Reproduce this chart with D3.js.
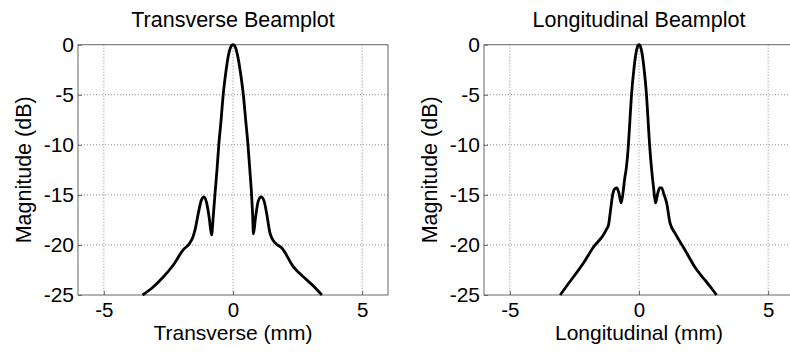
<!DOCTYPE html>
<html>
<head>
<meta charset="utf-8">
<script src="https://cdn.jsdelivr.net/npm/d3@7"></script>
<style>
  body { margin: 0; background: #fff; }
  text { font-family: "Liberation Sans", Arial, sans-serif; fill: #000; }
</style>
</head>
<body>
<div id="canvas"></div>
<script>
// tick values shared by both panels
const xTicks = [-5, 0, 5];
const yTicks = [0, -5, -10, -15, -20, -25];

// Transverse beamplot (mm, dB)
const transverseX = [-3.50, -3.09, -2.70, -2.31, -1.93, -1.67, -1.55, -1.47, -1.34, -1.22, -1.12, -1.02, -0.92, -0.83,
  -0.76, -0.70, -0.62, -0.55, -0.46, -0.38, -0.28, -0.18, -0.10, -0.04, 0, 0.04, 0.10, 0.18, 0.29, 0.40, 0.49, 0.58,
  0.66, 0.72, 0.76, 0.79, 0.87, 0.98, 1.09, 1.20, 1.30, 1.43, 1.52, 1.63, 1.89, 2.34, 2.86, 3.15, 3.44];
const transverseDb = [-25, -24.2, -23.2, -22.0, -20.5, -19.8, -19.2, -18.5, -16.8, -15.5, -15.2, -15.8, -17.3, -19.0,
  -17.0, -15.0, -12.5, -10.0, -7.5, -5.0, -2.8, -1.1, -0.3, -0.04, 0, -0.04, -0.3, -1.1, -2.8, -5.0, -7.5, -10.0,
  -12.8, -15.0, -17.0, -18.9, -17.3, -15.6, -15.2, -15.6, -16.8, -18.8, -19.4, -19.8, -20.3, -22.2, -23.5, -24.2, -25];

// Longitudinal beamplot (mm, dB)
const longitudinalX = [-3.05, -2.80, -2.54, -2.15, -1.76, -1.38, -1.25, -1.18, -1.10, -1.02, -0.94, -0.86, -0.78, -0.69,
  -0.62, -0.55, -0.50, -0.41, -0.35, -0.29, -0.20, -0.12, -0.06, -0.03, 0, 0.03, 0.06, 0.12, 0.20, 0.29, 0.35, 0.41,
  0.49, 0.56, 0.64, 0.72, 0.80, 0.88, 0.96, 1.07, 1.20, 1.39, 1.78, 2.16, 2.55, 2.80, 3.00];
const longitudinalDb = [-25, -24.1, -23.2, -21.8, -20.2, -19.0, -18.4, -18.0, -16.5, -15.0, -14.4, -14.3, -14.8, -15.8,
  -14.8, -13.3, -12.5, -10.0, -7.5, -5.0, -2.5, -0.9, -0.2, -0.04, 0, -0.04, -0.2, -0.9, -2.5, -5.0, -7.5, -10.0,
  -12.5, -14.2, -15.8, -14.9, -14.3, -14.3, -14.9, -15.8, -17.8, -18.8, -20.5, -22.2, -23.5, -24.3, -25];

const svg = d3.select("#canvas")
  .append("svg")
  .attr("width", 790)
  .attr("height", 354);

function drawPanel(left, title, xLabel, xs, ys) {
  const width = 310, top = 44.7, bottom = 295;

  const x = d3.scaleLinear().domain([-6, 6]).range([left, left + width]);
  const y = d3.scaleLinear().domain([-25, 0]).range([bottom, top]);

  const g = svg.append("g");

  // dotted grid
  g.append("g")
    .selectAll("line")
    .data(xTicks)
    .join("line")
    .attr("x1", d => x(d)).attr("x2", d => x(d))
    .attr("y1", top).attr("y2", bottom)
    .attr("stroke", "#8a8a8a")
    .attr("stroke-width", 1)
    .attr("stroke-dasharray", "1,2");

  g.append("g")
    .selectAll("line")
    .data(yTicks.filter(d => d > -25 && d < 0))
    .join("line")
    .attr("x1", left).attr("x2", left + width)
    .attr("y1", d => y(d)).attr("y2", d => y(d))
    .attr("stroke", "#8a8a8a")
    .attr("stroke-width", 1)
    .attr("stroke-dasharray", "1,2");

  // axes
  g.append("g")
    .attr("transform", `translate(0,${bottom})`)
    .call(d3.axisBottom(x).tickValues(xTicks).tickSize(-4).tickPadding(7).tickFormat(d => String(d)))
    .call(a => a.select(".domain").remove())
    .call(a => a.selectAll("line").attr("stroke", "#666"))
    .call(a => a.selectAll("text").style("font-size", "20.5px"));

  g.append("g")
    .attr("transform", `translate(${left},0)`)
    .call(d3.axisLeft(y).tickValues(yTicks).tickSize(-4).tickPadding(4).tickFormat(d => String(d)))
    .call(a => a.select(".domain").remove())
    .call(a => a.selectAll("line").attr("stroke", "#666"))
    .call(a => a.selectAll("text").style("font-size", "21px"));

  // box
  g.append("rect")
    .attr("x", left).attr("y", top)
    .attr("width", width).attr("height", bottom - top)
    .attr("fill", "none")
    .attr("stroke", "#666")
    .attr("stroke-width", 1);

  // curve
  const pts = xs.map((v, i) => [v, ys[i]]);
  g.append("path")
    .datum(pts)
    .attr("fill", "none")
    .attr("stroke", "#000")
    .attr("stroke-width", 2.8)
    .attr("stroke-linejoin", "round")
    .attr("d", d3.line()
      .x(d => x(d[0]))
      .y(d => y(d[1]))
      .curve(d3.curveMonotoneX));

  // titles
  g.append("text")
    .attr("x", x(0)).attr("y", 27)
    .attr("text-anchor", "middle")
    .style("font-size", "21.5px")
    .text(title);

  g.append("text")
    .attr("x", x(0)).attr("y", 340)
    .attr("text-anchor", "middle")
    .style("font-size", "21px")
    .text(xLabel);

  g.append("text")
    .attr("transform", `translate(${left - 47},${(top + bottom) / 2}) rotate(-90)`)
    .attr("text-anchor", "middle")
    .style("font-size", "21.5px")
    .text("Magnitude (dB)");
}

drawPanel(78, "Transverse Beamplot", "Transverse (mm)", transverseX, transverseDb);
drawPanel(484, "Longitudinal Beamplot", "Longitudinal (mm)", longitudinalX, longitudinalDb);
</script>
</body>
</html>
